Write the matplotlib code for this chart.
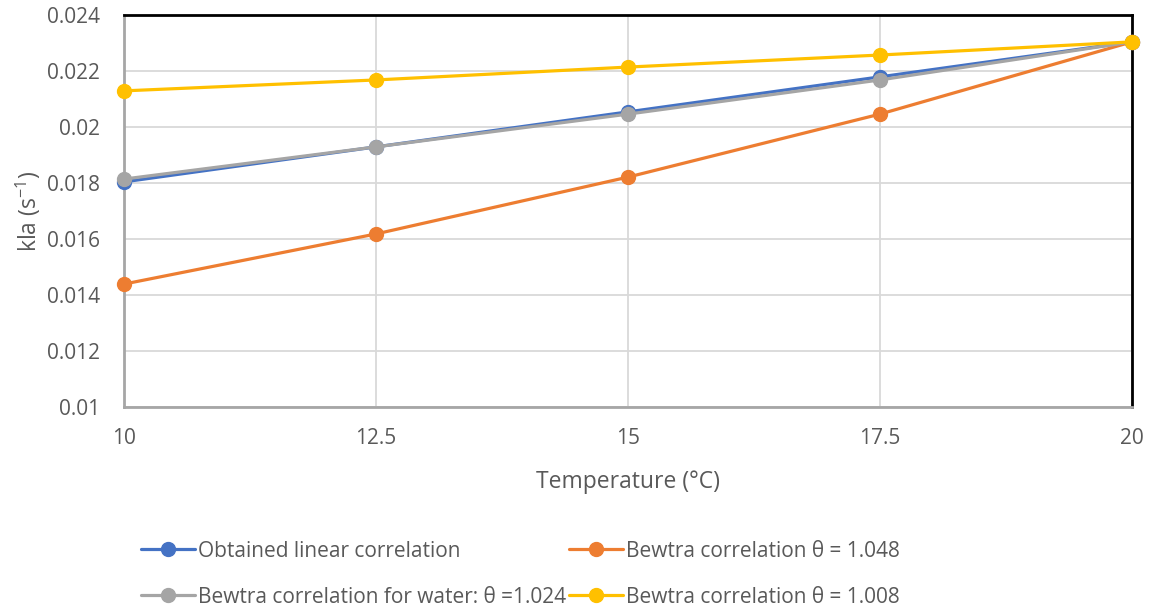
import matplotlib
matplotlib.use("Agg")
import matplotlib.pyplot as plt

plt.rcParams['font.family'] = ['Open Sans', 'DejaVu Sans']
plt.rcParams['mathtext.default'] = 'regular'

# data
temps = [10, 12.5, 15, 17.5, 20]
kla_linear = [0.01804, 0.01929, 0.02054, 0.02179, 0.02304]
kla_1048 = [0.01439, 0.01618, 0.01821, 0.02046, 0.02304]
kla_1024 = [0.01814, 0.01929, 0.02046, 0.02168, 0.02304]
kla_1008 = [0.02129, 0.02168, 0.02214, 0.02257, 0.02304]

labels = ['Obtained linear correlation',
          'Bewtra correlation θ = 1.048',
          'Bewtra correlation for water: θ =1.024',
          'Bewtra correlation θ = 1.008']
colors = ['#4472C4', '#ED7D31', '#A5A5A5', '#FFC000']

ytick_vals = [0.01, 0.012, 0.014, 0.016, 0.018, 0.02, 0.022, 0.024]
ytick_labels = ['0.01', '0.012', '0.014', '0.016', '0.018', '0.02', '0.022', '0.024']
xtick_labels = ['10', '12.5', '15', '17.5', '20']

fig = plt.figure(figsize=(11.5, 6.07), dpi=100)
ax = fig.add_axes([0.1078, 0.3295, 0.8765, 0.6458])

series = [kla_linear, kla_1048, kla_1024, kla_1008]
for s, lab, c in zip(series, labels, colors):
    ax.plot(temps, s, color=c, lw=2.3, marker='o', ms=10, label=lab,
            solid_capstyle='round', clip_on=False, zorder=3)

ax.set_xlim(10, 20)
ax.set_ylim(0.01, 0.024)
ax.set_xticks(temps)
ax.set_xticklabels(xtick_labels)
ax.set_yticks(ytick_vals)
ax.set_yticklabels(ytick_labels)
ax.grid(True, color='#D9D9D9', lw=1.3, zorder=0)
ax.set_axisbelow(True)
ax.tick_params(length=0, labelsize=15, labelcolor='#595959')
ax.tick_params(axis='y', pad=17)
ax.tick_params(axis='x', pad=15)

for side in ['top', 'right']:
    ax.spines[side].set_color('black')
    ax.spines[side].set_linewidth(2)
for side in ['left', 'bottom']:
    ax.spines[side].set_color('#A6A6A6')
    ax.spines[side].set_linewidth(2)

ax.set_xlabel('Temperature (°C)', fontsize=16.5, color='#595959', labelpad=15)
ax.set_ylabel('kla (s$^{-1}$)', fontsize=16.5, color='#595959', labelpad=3)

# legend order: row1 linear, 1.048; row2 water, 1.008
h, l = ax.get_legend_handles_labels()
order = [0, 2, 1, 3]
fig.legend([h[i] for i in order], [l[i] for i in order], loc='lower left',
           bbox_to_anchor=(0.106, -0.032), ncol=2, frameon=False, fontsize=15,
           labelcolor='#595959', handlelength=2.6, handletextpad=0.15,
           columnspacing=0.15, labelspacing=1.2)

fig.savefig('out.png', dpi=100)
